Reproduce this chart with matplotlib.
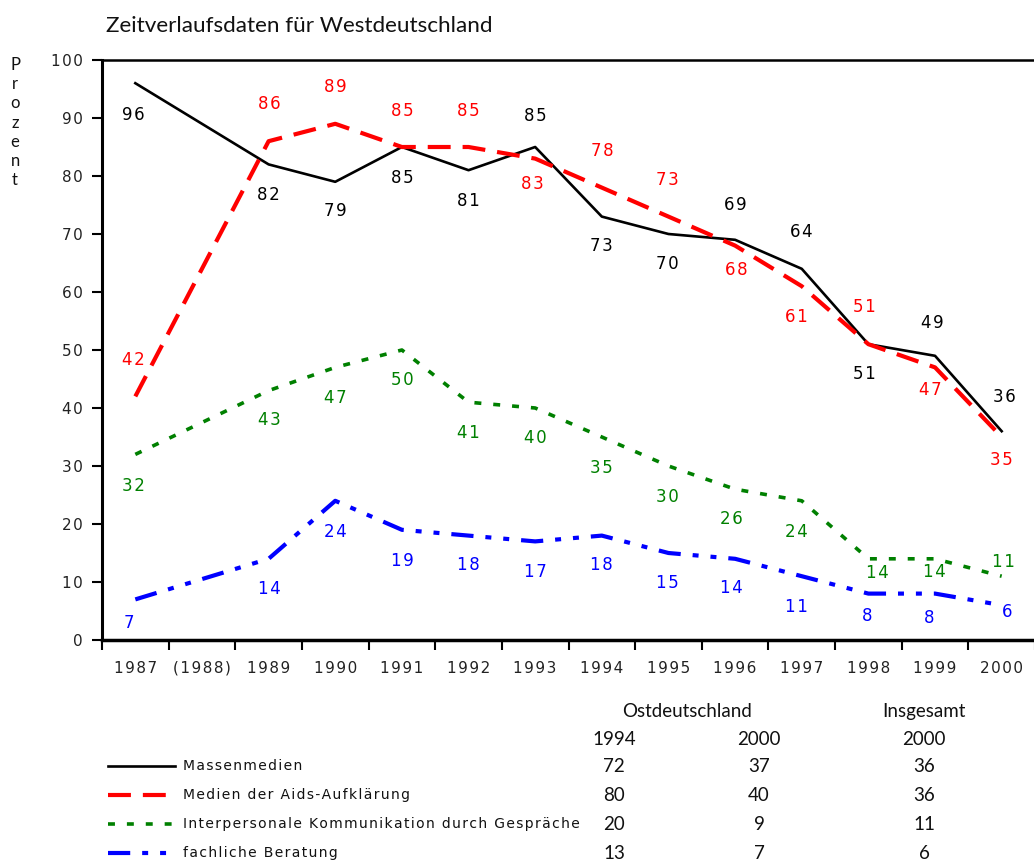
import matplotlib
matplotlib.use('Agg')
import matplotlib.pyplot as plt
from matplotlib.lines import Line2D

plt.rcParams['lines.scale_dashes'] = False

years = ["1987", "(1988)", "1989", "1990", "1991", "1992", "1993",
         "1994", "1995", "1996", "1997", "1998", "1999", "2000"]

# West Germany, percent (1988 only surveyed for the Aids media series)
massenmedien = [96, None, 82, 79, 85, 81, 85, 73, 70, 69, 64, 51, 49, 36]
aids_medien = [42, 64, 86, 89, 85, 85, 83, 78, 73, 68, 61, 51, 47, 35]
gespraeche = [32, None, 43, 47, 50, 41, 40, 35, 30, 26, 24, 14, 14, 11]
beratung = [7, None, 14, 24, 19, 18, 17, 18, 15, 14, 11, 8, 8, 6]

series_names = ["Massenmedien", "Medien der Aids-Aufklärung",
                "Interpersonale Kommunikation durch Gespräche",
                "fachliche Beratung"]

# table on the right
ost_1994 = [72, 80, 20, 13]
ost_2000 = [37, 40, 9, 7]
gesamt_2000 = [36, 36, 11, 6]

# label placement (dx, dy) in pixels, None = no label
off_black = [(-2, -32), None, (0, -31), (0, -29), (0, -31), (0, -31), (0, 31),
             (0, -29), (-1, -30), (0, 35), (0, 37), (-4, -30), (-3, 33), (3, 34)]
off_red = [(-2, 36), None, (1, 37), (0, 37), (0, 36), (0, 36), (-3, -25),
           (0, 37), (-1, 37), (1, -24), (-5, -31), (-4, 37), (-5, -23), (0, -23)]
off_green = [(-2, -32), None, (1, -29), (0, -31), (0, -30), (0, -31), (0, -30),
             (0, -31), (-1, -31), (-4, -30), (-5, -31), (9, -14), (-1, -13), (2, 14)]
off_blue = [(-6, -24), None, (1, -30), (0, -31), (0, -31), (0, -29), (0, -31),
            (0, -29), (-1, -30), (-4, -29), (-5, -31), (-1, -22), (-6, -24), (5, -7)]

W, H = 1034, 863
fig = plt.figure(figsize=(W / 100, H / 100), dpi=100)


def fx(p):
    return p / W


def fy(p):
    return 1 - p / H


def spaced(s):
    # the original uses letter-spaced type
    return '\u200a'.join(s)


ax = fig.add_axes([fx(102), fy(640), fx(1035) - fx(102), fy(60) - fy(640)])

styles = [
    dict(color='black', lw=1.9, ls='-'),
    dict(color='#ff0000', lw=3.0, dashes=(16.5, 8.6)),
    dict(color='#008000', lw=2.6, dashes=(5, 8.6)),
    dict(color='#0000ff', lw=3.0, dashes=(16, 8.6, 4.3, 8.6, 4.3, 8.6)),
]
all_series = [massenmedien, aids_medien, gespraeche, beratung]
all_offs = [off_black, off_red, off_green, off_blue]

for vals, st, offs in zip(all_series, styles, all_offs):
    xs = [i + 0.5 for i, v in enumerate(vals) if v is not None]
    ys = [v for v in vals if v is not None]
    ax.plot(xs, ys, clip_on=False, **st)
    for i, v in enumerate(vals):
        if v is None or offs[i] is None:
            continue
        ax.annotate(spaced(str(v)), (i + 0.5, v), xytext=offs[i],
                    textcoords='offset pixels', ha='center', va='center',
                    color=st['color'], fontsize=12, family='DejaVu Sans',
                    annotation_clip=False)

ax.set_xlim(0, len(years))
ax.set_ylim(0, 100)
ax.set_yticks(range(0, 101, 10))
ax.set_yticklabels([spaced(str(t)) for t in range(0, 101, 10)],
                   family='DejaVu Sans')
ax.set_xticks(range(0, len(years) + 1))
ax.set_xticklabels([])
ax.set_xticks([i + 0.5 for i in range(len(years))], minor=True)
ax.set_xticklabels([spaced(y) for y in years], minor=True,
                   family='DejaVu Sans')
ax.tick_params(axis='x', which='major', direction='out', length=7, width=1.5)
ax.tick_params(axis='x', which='minor', length=0, pad=15, labelsize=11)
ax.tick_params(axis='y', direction='out', length=7, width=1.5, pad=7,
               labelsize=11)
for lab in ax.get_yticklabels() + ax.get_xticklabels(minor=True):
    lab.set_color('#222222')
ax.spines['right'].set_visible(False)
ax.spines['left'].set_linewidth(2.2)
ax.spines['bottom'].set_linewidth(2.5)
ax.spines['top'].set_linewidth(1.8)

fig.text(fx(106), fy(32), "Zeitverlaufsdaten für Westdeutschland",
         family='Lato', fontsize=16.2, va='baseline', color='#111111')

for k, ch in enumerate("Prozent"):
    fig.text(fx(15), fy(70 + k * 19.2), ch, family='Lato', fontsize=12,
             ha='center', va='baseline', color='#111111')

# legend + table
row_y = [766, 795, 824, 853]
for k, (st, name) in enumerate(zip(styles, series_names)):
    fig.add_artist(Line2D([fx(108), fx(175)], [fy(row_y[k])] * 2,
                          transform=fig.transFigure, **st))
    fig.text(fx(183), fy(row_y[k]), spaced(name), family='DejaVu Sans',
             fontsize=10, va='center', color='#111111')
    for xc, col in zip([614, 759, 924], [ost_1994, ost_2000, gesamt_2000]):
        fig.text(fx(xc), fy(row_y[k]), str(col[k]), family='Lato',
                 fontsize=13.5, ha='center', va='center', color='#111111')

fig.text(fx(687), fy(711), "Ostdeutschland", family='Lato', fontsize=13.5,
         ha='center', va='center', color='#111111')
fig.text(fx(924), fy(711), "Insgesamt", family='Lato', fontsize=13.5,
         ha='center', va='center', color='#111111')
for xc, lab in zip([614, 759, 924], ["1994", "2000", "2000"]):
    fig.text(fx(xc), fy(739), lab, family='Lato', fontsize=13.5,
             ha='center', va='center', color='#111111')

plt.savefig("out.png", dpi=100)
